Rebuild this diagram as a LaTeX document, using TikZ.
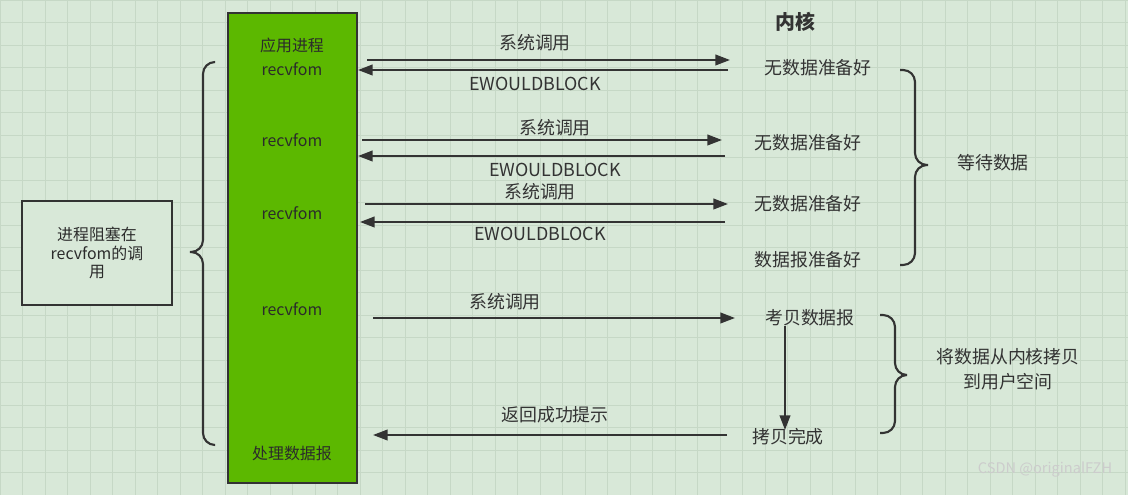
\documentclass[tikz,border=0pt]{standalone}
\usepackage{fontspec}
\setmainfont{Noto Sans CJK SC}
\usetikzlibrary{arrows.meta,decorations.pathreplacing}
\definecolor{bg}{HTML}{D8E8D8}
\definecolor{gridc}{HTML}{C6D8C6}
\definecolor{boxg}{HTML}{5CB800}
\definecolor{ink}{HTML}{333333}
\begin{document}
\begin{tikzpicture}[x=0.0265cm,y=-0.0265cm,
  txt/.style={font=\fontsize{13.5}{15}\selectfont,text=ink,inner sep=0},
  btxt/.style={font=\fontsize{12}{14}\selectfont,text=ink!85!black,inner sep=0},
  arr/.style={draw=ink,line width=1.4pt,-{Triangle[length=11pt,width=8pt]}},
  brace/.style={draw=ink,line width=1.6pt,rounded corners=9pt}]
\fill[bg] (0,0) rectangle (1128,495);
\useasboundingbox (0,0) rectangle (1128,495);
\foreach \i in {0,...,50} \draw[gridc,line width=0.6pt] (22.5*\i,0) -- (22.5*\i,495);
\foreach \i in {0,...,22} \draw[gridc,line width=0.6pt] (0,22.5*\i) -- (1128,22.5*\i);
% boxes
\node[draw=ink,line width=1.6pt,fill=boxg,minimum width=129*0.0265cm,minimum height=470*0.0265cm,inner sep=0] (app) at (292.5,248) {};
\node[draw=ink,line width=1.6pt,fill=bg,minimum width=150*0.0265cm,minimum height=104*0.0265cm,inner sep=0,align=center,btxt] (blk) at (97,253) {进程阻塞在\\recvfom的调\\用};
% braces
\draw[brace] (215,62) -- (203,62) -- (203,252) -- (183,252) -- (203,252) -- (203,445) -- (215,445);
\draw[brace] (900,70) -- (915,70) -- (915,165) -- (935,165) -- (915,165) -- (915,265) -- (900,265);
\draw[brace] (880,315) -- (895,315) -- (895,375) -- (913,375) -- (895,375) -- (895,433) -- (880,433);
% box text
\node[btxt] (a1) at (292,45) {应用进程};
\node[btxt] (r1) at (292,69) {recvfom};
\node[btxt] (r2) at (292,140) {recvfom};
\node[btxt] (r3) at (292,213) {recvfom};
\node[btxt] (r4) at (292,309) {recvfom};
\node[btxt] (p1) at (292,453) {处理数据报};
% kernel side
\node[txt,font=\fontsize{15}{17}\selectfont\bfseries] (kn) at (795,22) {内核};
\node[txt] (k1) at (818,68) {无数据准备好};
\node[txt] (k2) at (808,143) {无数据准备好};
\node[txt] (k3) at (808,204) {无数据准备好};
\node[txt] (k4) at (808,260) {数据报准备好};
\node[txt] (k5) at (810,318) {考贝数据报};
\node[txt] (k6) at (788,437) {拷贝完成};
\node[txt] (w) at (993,163) {等待数据};
\node[txt,align=center] (cp) at (1008,369) {将数据从内核拷贝\\[4pt]到用户空间};
% arrows
\coordinate (s1) at (367,60); \coordinate (e1) at (730,60);
\coordinate (s2) at (728,70); \coordinate (e2) at (358,70);
\coordinate (s3) at (362,140); \coordinate (e3) at (722,140);
\coordinate (s4) at (725,156); \coordinate (e4) at (358,156);
\coordinate (s5) at (365,204); \coordinate (e5) at (728,204);
\coordinate (s6) at (725,222); \coordinate (e6) at (360,222);
\coordinate (s7) at (373,318); \coordinate (e7) at (735,318);
\coordinate (s8) at (727,435); \coordinate (e8) at (373,435);
\draw[arr] (s1) -- (e1); \draw[arr] (s2) -- (e2);
\draw[arr] (s3) -- (e3); \draw[arr] (s4) -- (e4);
\draw[arr] (s5) -- (e5); \draw[arr] (s6) -- (e6);
\draw[arr] (s7) -- (e7); \draw[arr] (s8) -- (e8);
\draw[arr] (785,326) -- (785,430);
\node[txt] (l1) at (535,43) {系统调用};
\node[txt] (l2) at (535,84) {EWOULDBLOCK};
\node[txt] (l3) at (555,128) {系统调用};
\node[txt] (l4) at (555,170) {EWOULDBLOCK};
\node[txt] (l5) at (540,192) {系统调用};
\node[txt] (l6) at (540,234) {EWOULDBLOCK};
\node[txt] (l7) at (505,302) {系统调用};
\node[txt] (l8) at (555,415) {返回成功提示};
\node[txt,text=white!60!gray,font=\fontsize{11}{13}\selectfont] (wm) at (1045,470) {CSDN @originalFZH};
\end{tikzpicture}
\end{document}
